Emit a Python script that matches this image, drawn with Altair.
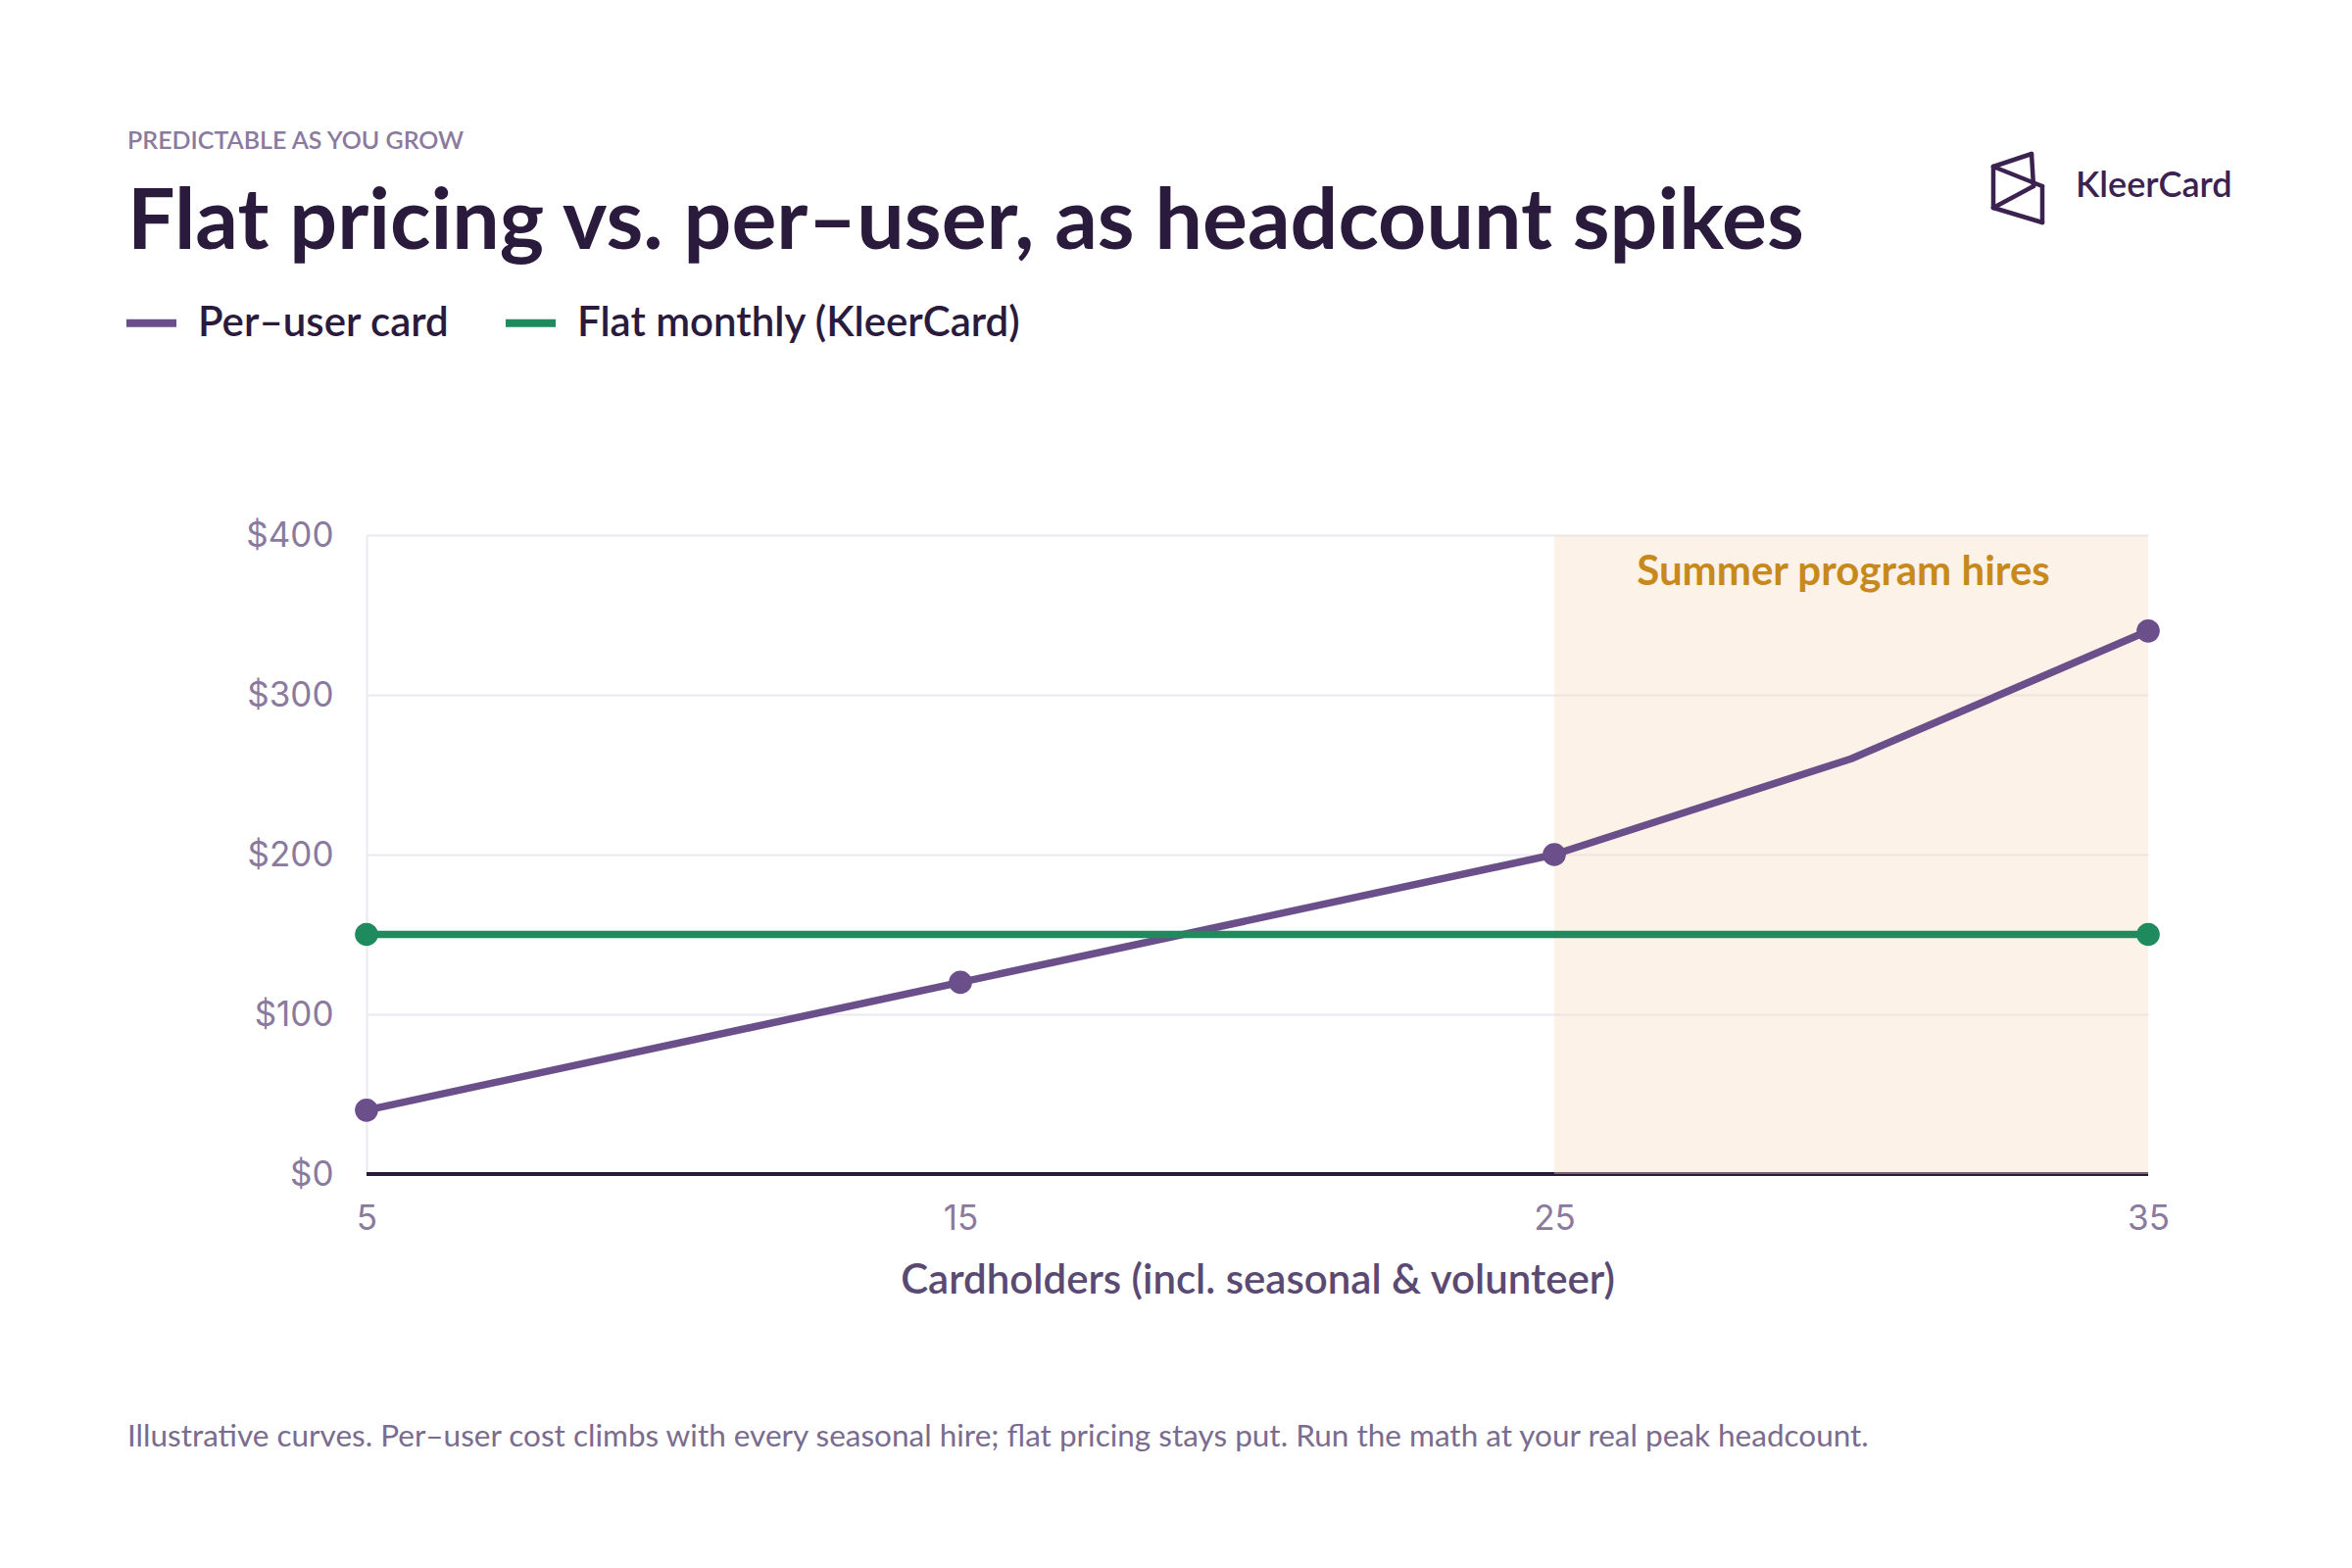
import altair as alt
import pandas as pd

# ---------------- data ----------------
per_user_headcount = [5, 15, 25, 30, 35]
per_user_cost = [40, 120, 200, 260, 340]
flat_headcount = [5, 35]
flat_cost = [150, 150]

series_names = ["Per–user card", "Flat monthly (KleerCard)"]
x_ticks = [5, 15, 25, 35]
y_ticks = [0, 100, 200, 300, 400]

band_start = 25
band_end = 35
band_label = "Summer program hires"

eyebrow = "PREDICTABLE AS YOU GROW"
title = "Flat pricing vs. per–user, as headcount spikes"
x_title = "Cardholders (incl. seasonal & volunteer)"
footnote = ("Illustrative curves. Per–user cost climbs with every seasonal hire; "
            "flat pricing stays put. Run the math at your real peak headcount.")
brand = "KleerCard"

# ---------------- styles ----------------
PURPLE = "#6A4F8A"
GREEN = "#1F8A5E"
INK = "#2A1B3D"
MUTED = "#8A7A9E"
AXIS_TITLE = "#5A4A73"
GRID = "#ECE8F2"
GOLD = "#C8891C"
HEAD_FONT = "Lato"
TICK_FONT = "Inter"

W, H = 1818, 652

df = pd.DataFrame(
    {
        "series": [series_names[0]] * len(per_user_headcount) + [series_names[1]] * len(flat_headcount),
        "headcount": per_user_headcount + flat_headcount,
        "cost": per_user_cost + flat_cost,
    }
)

x_axis = alt.Axis(
    values=x_ticks,
    grid=False,
    domain=False,
    ticks=False,
    labelFlush=False,
    labelPadding=28,
    labelFontSize=35,
    labelFont=TICK_FONT,
    labelColor=MUTED,
    title=x_title,
    titleFont=HEAD_FONT,
    titleFontSize=42,
    titleFontWeight=600,
    titleColor=AXIS_TITLE,
    titlePadding=25,
)
y_axis = alt.Axis(
    values=y_ticks,
    labelExpr="'$' + datum.value",
    grid=True,
    gridColor=GRID,
    gridWidth=2,
    domain=True,
    domainColor=GRID,
    domainWidth=2,
    ticks=False,
    labelPadding=34,
    labelFontSize=35,
    labelFont=TICK_FONT,
    labelColor=MUTED,
    title=None,
)
x_scale = alt.Scale(domain=[x_ticks[0], x_ticks[-1]], nice=False, zero=False)
y_scale = alt.Scale(domain=[y_ticks[0], y_ticks[-1]], nice=False)

color = alt.Color(
    "series:N",
    scale=alt.Scale(domain=series_names, range=[PURPLE, GREEN]),
    legend=alt.Legend(
        orient="none",
        legendX=-249,
        legendY=-246,
        direction="horizontal",
        title=None,
        symbolType="stroke",
        symbolSize=2601,
        symbolStrokeWidth=8,
        labelFontSize=42,
        labelFont=HEAD_FONT,
        labelFontWeight=600,
        labelColor=INK,
        labelOffset=18,
        columnPadding=41,
        padding=0,
        labelLimit=900,
    ),
)

base = alt.Chart(df).encode(
    x=alt.X("headcount:Q", scale=x_scale, axis=x_axis),
    y=alt.Y("cost:Q", scale=y_scale, axis=y_axis),
    color=color,
)

lines = base.mark_line(strokeWidth=7.5, strokeCap="round", strokeJoin="round")
points = base.mark_point(filled=True, size=560, opacity=1).transform_filter(
    alt.FieldOneOfPredicate(field="headcount", oneOf=x_ticks)
)

one = alt.Data(values=[{}])

baseline = alt.Chart(one).mark_rule(color=INK, strokeWidth=4).encode(
    y=alt.Y(datum=y_ticks[0], scale=y_scale, axis=y_axis)
)

band_df = pd.DataFrame({"start": [band_start], "end": [band_end], "label": [band_label]})
band = alt.Chart(band_df).mark_rect(color="#F6DCC0", opacity=0.38).encode(
    x=alt.X("start:Q", scale=x_scale, axis=x_axis),
    x2="end:Q",
    y=alt.Y(datum=y_ticks[0], scale=y_scale, axis=y_axis),
    y2=alt.Y2(datum=y_ticks[-1]),
)
band_text = (
    alt.Chart(band_df)
    .transform_calculate(mid="(datum.start + datum.end) / 2")
    .mark_text(font=HEAD_FONT, fontSize=42, fontWeight="bold", color=GOLD, baseline="middle", align="center", dx=-8)
    .encode(x=alt.X("mid:Q", scale=x_scale, axis=x_axis), y=alt.value(38), text="label:N")
)

# ---------------- header / footer text ----------------
def txt(s, x, y, size, color, weight="normal", baseline="middle", font=HEAD_FONT):
    return alt.Chart(one).mark_text(
        text=s, font=font, fontSize=size, fontWeight=weight, color=color,
        align="left", baseline=baseline,
    ).encode(x=alt.value(x), y=alt.value(y))

eyebrow_t = txt(eyebrow, -244, -402, 25, MUTED, weight=600)
title_t = txt(title, -244, -292, 86, INK, weight="bold", baseline="alphabetic")
foot_t = txt(footnote, -244, 921, 31.5, "#7A6C8E")
brand_t = txt(brand, 1744, -356, 36, "#3B2250", weight=600)

# logo icon segments (decoration, pixel space relative to plot origin)
A = (1660, -376); B = (1699, -389); C = (1701, -356)
D = (1710, -356); E = (1710, -319); G = (1660, -334)
segments = [(A, B), (B, C), (A, D), (D, E), (E, G), (G, C), (A, G)]
logo_layers = [
    alt.Chart(one).mark_rule(color="#3B2250", strokeWidth=4.5, strokeCap="round").encode(
        x=alt.value(p[0]), y=alt.value(p[1]), x2=alt.value(q[0]), y2=alt.value(q[1])
    )
    for p, q in segments
]

chart = (
    alt.layer(baseline, band, lines, points, band_text, eyebrow_t, title_t, foot_t, brand_t, *logo_layers)
    .properties(
        width=W,
        height=H,
        padding={"left": 366, "top": 538, "right": 190, "bottom": 370},
        autosize=alt.AutoSizeParams(type="none"),
        background="white",
    )
    .configure_view(stroke=None)
)

chart.save("out.html", embed_options={"renderer": "svg", "actions": False})
